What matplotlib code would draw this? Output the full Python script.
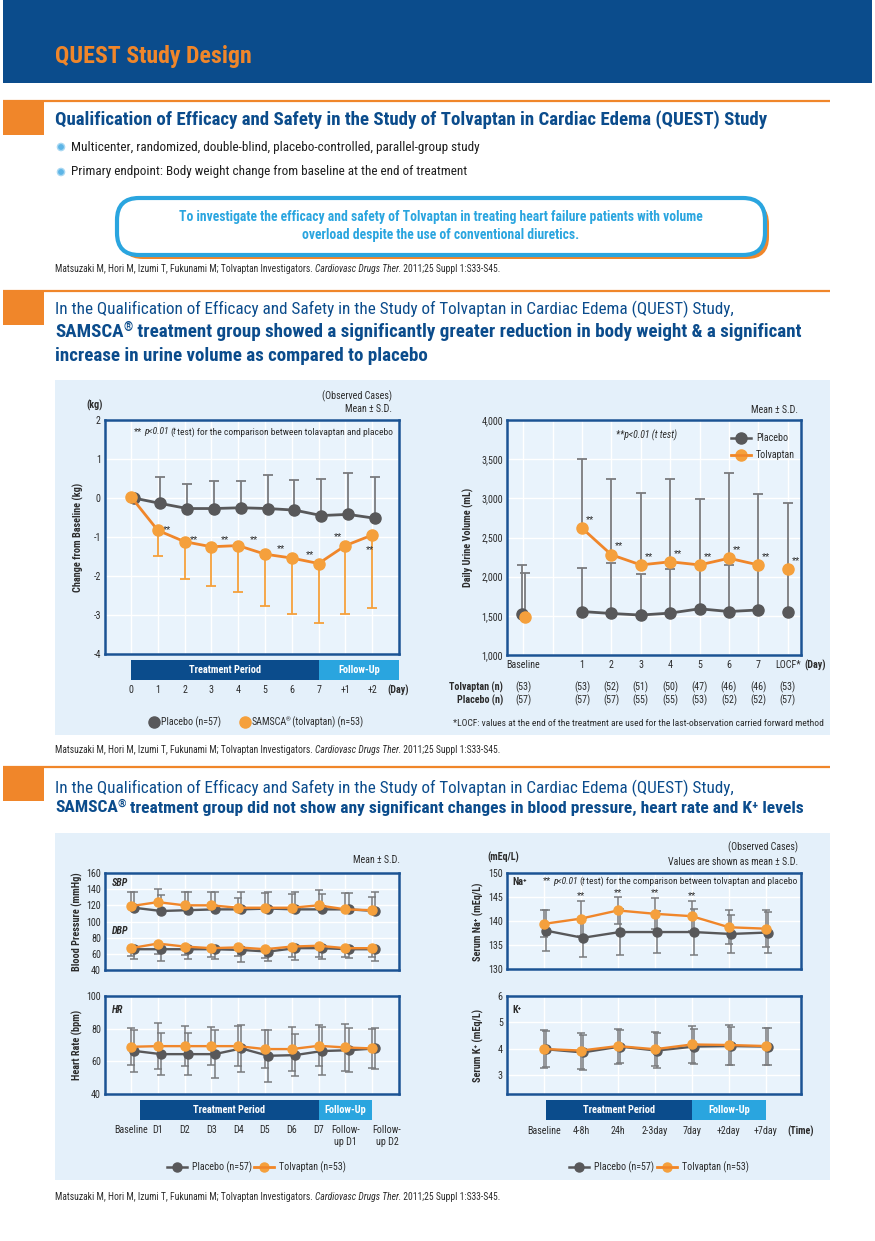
import numpy as np
import matplotlib
matplotlib.use("Agg")
import matplotlib.pyplot as plt
from matplotlib import font_manager as fm
from matplotlib.patches import Rectangle, FancyBboxPatch, Circle

W, H = 875, 1241

# pick a narrow sans if one is installed
names = {f.name for f in fm.fontManager.ttflist}
COND = next((c for c in ["Liberation Sans Narrow", "Roboto Condensed",
                         "Open Sans Condensed", "Arial Narrow"] if c in names),
            "Liberation Sans")
plt.rcParams["font.family"] = [COND, "DejaVu Sans"]

NAVY = "#0B4C8C"
ORANGE = "#F0862A"
DOT_OR = "#F5A03C"
GREY = "#58585A"
ERR = "#7A7B7E"
SKY = "#2AA5DF"
PANEL = "#E4F0FA"
FACE = "#E9F3FC"
FRAME = "#1B5394"
TXT = "#2B2B2B"

# ── Body weight change (kg) ──────────────────────────────────────────────
wt_days = ["0", "1", "2", "3", "4", "5", "6", "7", "+1", "+2"]
wt_placebo = [0.0, -0.14, -0.27, -0.27, -0.25, -0.27, -0.31, -0.45, -0.42, -0.52]
wt_placebo_sd = [0.0, 0.67, 0.63, 0.70, 0.68, 0.85, 0.78, 0.95, 1.06, 1.05]
wt_tolv = [0.03, -0.83, -1.12, -1.25, -1.22, -1.44, -1.54, -1.68, -1.22, -0.95]
wt_tolv_sd = [0.0, 0.65, 0.95, 1.01, 1.20, 1.33, 1.44, 1.53, 1.75, 1.86]
wt_star_x = [1.36, 2.34, 3.52, 4.6, 5.58, 6.66, 7.74, 8.91]
wt_star_y = [-0.82, -1.08, -1.08, -1.08, -1.29, -1.44, -0.99, -1.33]

# ── Daily urine volume (mL) ──────────────────────────────────────────────
ur_labels = ["Baseline", "1", "2", "3", "4", "5", "6", "7", "LOCF*"]
ur_placebo = [1520, 1555, 1530, 1510, 1535, 1590, 1555, 1575, 1555]
ur_placebo_sd = [630, 550, 640, 530, 560, 560, 595, 555, 550]
ur_tolv = [1490, 2620, 2280, 2150, 2190, 2150, 2235, 2150, 2095]
ur_tolv_sd = [555, 880, 965, 915, 1055, 840, 1085, 900, 840]
ur_n_tolv = ["(53)", "(53)", "(52)", "(51)", "(50)", "(47)", "(46)", "(46)", "(53)"]
ur_n_plac = ["(57)", "(57)", "(57)", "(55)", "(55)", "(53)", "(52)", "(52)", "(57)"]

# ── Blood pressure / heart rate ──────────────────────────────────────────
vs_labels = ["Baseline", "D1", "D2", "D3", "D4", "D5", "D6", "D7",
             "Follow-\nup D1", "Follow-\nup D2"]
sbp_tolv = [119, 124, 120, 120, 117, 117, 117, 120, 115, 114]
sbp_tolv_sd = [17, 16, 16, 16, 12, 18, 17, 18.5, 20, 16]
sbp_plac = [117, 113, 114, 115, 115, 116, 115, 115, 115, 113]
sbp_plac_sd = [19, 20, 23, 21, 22, 21, 21, 19, 20, 23]
dbp_tolv = [67, 72.7, 69, 67, 68, 65.7, 69, 70, 67, 67]
dbp_tolv_sd = [9.2, 13.2, 10.4, 10.5, 10.6, 11.2, 12.5, 13.5, 11.3, 11.3]
dbp_plac = [65.7, 65.7, 65.7, 65.7, 64.8, 62.8, 67, 67, 65.7, 65.7]
dbp_plac_sd = [12, 14.1, 12.5, 12.5, 14.4, 11.2, 14.6, 13.8, 11.2, 14.1]
hr_tolv = [68.9, 69.3, 69.3, 69.3, 69.3, 67.5, 67.5, 69.5, 68.5, 67.9]
hr_tolv_sd = [11.4, 13.9, 12.2, 11.8, 12.4, 11.5, 13.6, 12.6, 14.2, 12.0]
hr_plac = [66.4, 64.4, 64.4, 64.4, 67.9, 63.4, 63.8, 66.3, 66.8, 67.9]
hr_plac_sd = [12.8, 12.8, 12.7, 14.9, 14.3, 15.8, 12.9, 14.7, 13.4, 12.7]

# ── Serum electrolytes ───────────────────────────────────────────────────
el_labels = ["Baseline", "4-8h", "24h", "2-3day", "7day", "+2day", "+7day"]
na_tolv = [139.4, 140.5, 142.2, 141.5, 141.0, 138.7, 138.4]
na_tolv_sd = [2.8, 3.6, 2.8, 3.2, 3.1, 3.5, 3.8]
na_plac = [138.0, 136.5, 137.7, 137.7, 137.7, 137.3, 137.6]
na_plac_sd = [4.2, 4.1, 4.7, 4.4, 4.7, 4.0, 4.3]
na_star = [False, True, True, True, True, False, False]
k_tolv = [4.00, 3.94, 4.11, 3.99, 4.17, 4.15, 4.11]
k_tolv_sd = [0.70, 0.68, 0.66, 0.65, 0.70, 0.75, 0.70]
k_plac = [3.99, 3.87, 4.09, 3.94, 4.09, 4.11, 4.09]
k_plac_sd = [0.68, 0.66, 0.62, 0.66, 0.65, 0.72, 0.70]

REF = [("Matsuzaki M, Hori M, Izumi T, Fukunami M; Tolvaptan Investigators. ", {}),
       ("Cardiovasc Drugs Ther.", {"style": "italic"}),
       (" 2011;25 Suppl 1:S33-S45.", {})]


def p_note(rest):
    return [("**", {}), ("p<0.01", {"style": "italic", "gap": 2}), ("(", {"gap": 1.5}),
            ("t", {"style": "italic", "gap": -0.5}), (" test) " + rest, {"gap": -0.5})]


fig = plt.figure(figsize=(W / 100, H / 100), dpi=100)
fig.patch.set_facecolor("white")


def layer(z):
    a = fig.add_axes([0, 0, 1, 1], zorder=z)
    a.set_xlim(0, W)
    a.set_ylim(H, 0)
    a.axis("off")
    return a


back = layer(-5)
front = layer(10)
renderer = fig.canvas.get_renderer()


def rich(x, y, parts, size, color=TXT, **kw):
    """Draw text pieces one after another; a piece may carry its own size, lift and gap."""
    for s, extra in parts:
        extra = dict(extra)
        sz = extra.pop("size", size)
        dy = extra.pop("dy", 0)
        x += extra.pop("gap", 0)
        t = front.text(x, y + dy, s, fontsize=sz, color=color, va="center", **kw, **extra)
        x += t.get_window_extent(renderer=renderer).width


def samsca(rest, size, weight="bold", gap=0):
    return [("SAMSCA", {"weight": weight}),
            ("®", {"weight": weight, "size": size * 0.62, "dy": -size * 0.32, "gap": gap}),
            (rest, {"weight": weight})]


def section(y):
    back.plot([3, 830], [y, y], color=ORANGE, lw=1.6, solid_capstyle="butt")
    back.add_patch(Rectangle((3, y), 41, 34, color=ORANGE, lw=0))


# ── Header ───────────────────────────────────────────────────────────────
back.add_patch(Rectangle((3, 0), 869, 83, color=NAVY, lw=0))
front.text(55, 57, "QUEST Study Design", fontsize=17.2, weight="bold", color=ORANGE, va="center")

section(101)
front.text(55, 120, "Qualification of Efficacy and Safety in the Study of Tolvaptan in Cardiac Edema (QUEST) Study",
           fontsize=13.6, weight="bold", color=NAVY, va="center")
for yy, s in [(147, "Multicenter, randomized, double-blind, placebo-controlled, parallel-group study"),
              (172, "Primary endpoint: Body weight change from baseline at the end of treatment")]:
    back.add_patch(Circle((61, yy), 3.6, facecolor="#5DB5E6", edgecolor="#A9D8F2", lw=1))
    front.text(71, yy, s, fontsize=9.5, color="#1E1E1E", va="center")

back.add_patch(FancyBboxPatch((121, 202), 648, 57, boxstyle="round,pad=0,rounding_size=22",
                              facecolor=ORANGE, edgecolor="none"))
back.add_patch(FancyBboxPatch((117, 198), 648, 57, boxstyle="round,pad=0,rounding_size=22",
                              facecolor="white", edgecolor=SKY, lw=3))
front.text(441, 226, "To investigate the efficacy and safety of Tolvaptan in treating heart failure patients with volume\n"
           "overload despite the use of conventional diuretics.", fontsize=9.8, weight="bold",
           color=SKY, ha="center", va="center", linespacing=1.45)
rich(55, 269, REF, 6.9)

section(291)
front.text(55, 309, "In the Qualification of Efficacy and Safety in the Study of Tolvaptan in Cardiac Edema (QUEST) Study,",
           fontsize=12.3, color=NAVY, va="center")
rich(55, 332, samsca(" treatment group showed a significantly greater reduction in body weight & a significant", 13.7),
     13.7, color=NAVY)
front.text(55, 356, "increase in urine volume as compared to placebo", fontsize=13.7, weight="bold",
           color=NAVY, va="center")
back.add_patch(Rectangle((55, 380), 775, 355, color=PANEL, lw=0))
rich(55, 750, REF, 6.9)

section(767)
front.text(55, 788, "In the Qualification of Efficacy and Safety in the Study of Tolvaptan in Cardiac Edema (QUEST) Study,",
           fontsize=12.3, color=NAVY, va="center")
rich(55, 808, samsca(" treatment group did not show any significant changes in blood pressure, heart rate and K⁺ levels", 12.6),
     12.6, color=NAVY)
back.add_patch(Rectangle((55, 833), 775, 347, color=PANEL, lw=0))
rich(55, 1197, REF, 6.9)


def make_ax(box, xlim, ylim, yticks, ylabels, xticks):
    l, t, r, b = box
    ax = fig.add_axes([l / W, 1 - b / H, (r - l) / W, (b - t) / H])
    ax.set_xlim(*xlim)
    ax.set_ylim(*ylim)
    ax.set_facecolor(FACE)
    for s in ax.spines.values():
        s.set_color(FRAME)
        s.set_linewidth(1.8)
    ax.set_yticks(yticks)
    ax.set_yticklabels(ylabels)
    ax.set_xticks(xticks)
    ax.set_xticklabels([])
    ax.tick_params(length=0, labelsize=7.2, colors=TXT, pad=3)
    ax.grid(True, color="white", lw=1.0)
    ax.set_axisbelow(True)
    return ax


def yfrac(box, ypx):
    return (box[3] - ypx) / (box[3] - box[1])


def period_bar(ax, box, x0, x1, x2, top=6, bottom=26):
    tr = ax.get_xaxis_transform()
    y0 = yfrac(box, box[3] + bottom)
    hgt = (bottom - top) / (box[3] - box[1])
    ax.add_patch(Rectangle((x0, y0), x1 - x0, hgt, transform=tr, clip_on=False, color=NAVY, lw=0))
    ax.add_patch(Rectangle((x1, y0), x2 - x1, hgt, transform=tr, clip_on=False, color=SKY, lw=0))
    ax.text((x0 + x1) / 2, y0 + hgt / 2, "Treatment Period", transform=tr, color="white",
            weight="bold", fontsize=7.5, ha="center", va="center")
    ax.text((x1 + x2) / 2, y0 + hgt / 2, "Follow-Up", transform=tr, color="white",
            weight="bold", fontsize=7.5, ha="center", va="center")


def xlabels(ax, box, xs, labels, ypx, va="center"):
    tr = ax.get_xaxis_transform()
    for x, s in zip(xs, labels):
        ax.text(x, yfrac(box, ypx), s, transform=tr, fontsize=7.2, color=TXT,
                ha="center", va=va, clip_on=False, linespacing=1.2)


def legend_item(x, y, color, label, line=False, ms=8):
    if line:
        front.plot([x - 10, x + 10], [y, y], color=color, lw=1.8)
    front.plot([x], [y], "o", ms=ms, color=color)
    if isinstance(label, str):
        front.text(x + (15 if line else 7), y, label, fontsize=7.2, color=TXT, va="center")
    else:
        rich(x + 7, y, label, 7.2)


def ylabel(x, y, s):
    front.text(x, y, s, rotation=90, fontsize=7.4, weight="bold", color=TXT,
               ha="center", va="center")


# ── Chart 1: body weight ─────────────────────────────────────────────────
b1 = (105, 420, 399, 654)
x1 = np.arange(len(wt_days))
ax1 = make_ax(b1, (-0.97, 10.0), (-4, 2), range(-4, 3), [str(v) for v in range(-4, 3)], x1)
zeros = np.zeros(len(x1))
ax1.errorbar(x1 + 0.1, wt_placebo, yerr=[zeros, wt_placebo_sd], fmt="none", ecolor=ERR,
             elinewidth=1.3, capsize=3.5, capthick=1.3)
ax1.errorbar(x1, wt_tolv, yerr=[wt_tolv_sd, zeros], fmt="none", ecolor=DOT_OR,
             elinewidth=1.3, capsize=3.5, capthick=1.3)
ax1.plot(x1 + 0.1, wt_placebo, color=GREY, lw=2, marker="o", ms=8, zorder=3)
ax1.plot(x1, wt_tolv, color=ORANGE, lw=2, marker="o", ms=8, mfc=DOT_OR, mec=DOT_OR, zorder=4)
for sx, sy in zip(wt_star_x, wt_star_y):
    ax1.text(sx, sy, "**", fontsize=6.8, ha="center", va="center", color=TXT)
period_bar(ax1, b1, 0, 7, 10.0)
xlabels(ax1, b1, x1, wt_days, 690)
front.text(398, 690, "(Day)", fontsize=7.2, weight="bold", ha="center", va="center", color=TXT)
front.text(95, 405, "(kg)", fontsize=7.2, weight="bold", ha="center", va="center", color=TXT)
front.text(392, 396, "(Observed Cases)", fontsize=7.2, ha="right", va="center", color=TXT)
front.text(392, 409, "Mean ± S.D.", fontsize=7.2, ha="right", va="center", color=TXT)
rich(134, 432, p_note("for the comparison between tolavaptan and placebo"), 6.8)
ylabel(78, 537, "Change from Baseline (kg)")
legend_item(154, 722, GREY, "Placebo (n=57)")
legend_item(245, 722, DOT_OR, samsca(" (tolvaptan) (n=53)", 7.2, weight="normal", gap=-1.5))

# ── Chart 2: urine volume ────────────────────────────────────────────────
b2 = (507, 420, 801, 655)
x2 = np.array([-1, 1, 2, 3, 4, 5, 6, 7, 8])
yt2 = range(1000, 4001, 500)
ax2 = make_ax(b2, (-1.55, 8.45), (1000, 4000), yt2, [f"{v:,}" for v in yt2], range(-1, 9))
zeros = np.zeros(len(x2))
shift = np.where(x2 == -1, 0.05, 0.0)
ax2.errorbar(x2 - shift, ur_placebo, yerr=[zeros, ur_placebo_sd], fmt="none", ecolor=ERR,
             elinewidth=1.3, capsize=3.5, capthick=1.3)
ax2.errorbar(x2 + shift, ur_tolv, yerr=[zeros, ur_tolv_sd], fmt="none", ecolor=ERR,
             elinewidth=1.3, capsize=3.5, capthick=1.3)
days = slice(1, 8)
ax2.plot(x2[days], ur_placebo[days], color=GREY, lw=2, zorder=3)
ax2.plot(x2 - shift, ur_placebo, "o", color=GREY, ms=8, zorder=3)
ax2.plot(x2[days], ur_tolv[days], color=ORANGE, lw=2, zorder=4)
ax2.plot(x2 + shift, ur_tolv, "o", color=DOT_OR, ms=8, zorder=4)
for xx, yy in zip(x2[1:], ur_tolv[1:]):
    ax2.text(xx + 0.27, yy + 110, "**", fontsize=6.8, ha="center", va="center", color=TXT)
xlabels(ax2, b2, x2, ur_labels, 665)
front.text(815, 665, "(Day)", fontsize=7.2, weight="bold", ha="center", va="center", color=TXT)
xlabels(ax2, b2, x2, ur_n_tolv, 687)
xlabels(ax2, b2, x2, ur_n_plac, 700)
front.text(503, 687, "Tolvaptan (n)", fontsize=7.2, weight="bold", ha="right", va="center", color=TXT)
front.text(503, 700, "Placebo (n)", fontsize=7.2, weight="bold", ha="right", va="center", color=TXT)
front.text(453, 723, "*LOCF: values at the end of the treatment are used for the last-observation carried forward method",
           fontsize=6.8, va="center", color=TXT)
front.text(798, 410, "Mean ± S.D.", fontsize=7.2, ha="right", va="center", color=TXT)
front.text(647, 435, "**p<0.01 (t test)", fontsize=7, style="italic", ha="center", va="center", color=TXT)
legend_item(741, 438, GREY, "Placebo", line=True)
legend_item(741, 455, DOT_OR, "Tolvaptan", line=True)
front.plot([731, 751], [455, 455], color=ORANGE, lw=1.8)
ylabel(468, 537, "Daily Urine Volume (mL)")


# ── Lower panel helpers ──────────────────────────────────────────────────
def vs_series(ax, xs, tolv, tolv_sd, plac, plac_sd, up=True, down=True, off=0.12):
    n = len(xs)
    zeros = np.zeros(n)
    lo_t = tolv_sd if down else zeros
    hi_t = tolv_sd if up else zeros
    lo_p = plac_sd if down else zeros
    hi_p = plac_sd if up else zeros
    ax.errorbar(xs + off, plac, yerr=[lo_p, hi_p], fmt="none", ecolor=ERR,
                elinewidth=1.1, capsize=2.8, capthick=1.1)
    ax.errorbar(xs, tolv, yerr=[lo_t, hi_t], fmt="none", ecolor=ERR,
                elinewidth=1.1, capsize=2.8, capthick=1.1)
    ax.plot(xs + off, plac, color=GREY, lw=1.7, marker="o", ms=6.5, zorder=3)
    ax.plot(xs, tolv, color=ORANGE, lw=1.7, marker="o", ms=6.5, mfc=DOT_OR, mec=DOT_OR, zorder=4)


xv = np.arange(len(vs_labels))
b3 = (105, 873, 399, 970)
ax3 = make_ax(b3, (-0.97, 10.0), (40, 160), range(40, 161, 20), [str(v) for v in range(40, 161, 20)], xv)
vs_series(ax3, xv, sbp_tolv, sbp_tolv_sd, sbp_plac, sbp_plac_sd, down=False)
vs_series(ax3, xv, dbp_tolv, dbp_tolv_sd, dbp_plac, dbp_plac_sd, up=False)
front.text(112, 883, "SBP", fontsize=7.2, weight="bold", style="italic", va="center", color=TXT)
front.text(112, 931, "DBP", fontsize=7.2, weight="bold", style="italic", va="center", color=TXT)
front.text(400, 860, "Mean ± S.D.", fontsize=7.2, ha="right", va="center", color=TXT)
ylabel(77, 922, "Blood Pressure (mmHg)")

b4 = (105, 996, 399, 1094)
ax4 = make_ax(b4, (-0.97, 10.0), (40, 100), range(40, 101, 20), [str(v) for v in range(40, 101, 20)], xv)
vs_series(ax4, xv, hr_tolv, hr_tolv_sd, hr_plac, hr_plac_sd)
front.text(112, 1010, "HR", fontsize=7.2, weight="bold", style="italic", va="center", color=TXT)
ylabel(77, 1045, "Heart Rate (bpm)")
period_bar(ax4, b4, 0.34, 7, 9.0)
xlabels(ax4, b4, list(xv[:-1]) + [9.55], vs_labels, 1125, va="top")
legend_item(177, 1167, GREY, "Placebo (n=57)", line=True, ms=6.5)
legend_item(264, 1167, DOT_OR, "Tolvaptan (n=53)", line=True, ms=6.5)
front.plot([254, 274], [1167, 1167], color=ORANGE, lw=1.8)

xe = np.arange(len(el_labels))
b5 = (507, 873, 801, 969)
ax5 = make_ax(b5, (-1, 6.95), (130, 150), range(130, 151, 5), [str(v) for v in range(130, 151, 5)], xe)
vs_series(ax5, xe, na_tolv, na_tolv_sd, na_plac, na_plac_sd, off=0.05)
for xx, yy, sd, st in zip(xe, na_tolv, na_tolv_sd, na_star):
    if st:
        ax5.text(xx, min(yy + sd + 1.2, 145.9), "**", fontsize=6.8, ha="center", va="center", color=TXT)
front.text(512, 882, "Na⁺", fontsize=7.2, weight="bold", va="center", color=TXT)
rich(543, 881, p_note("for the comparison between tolvaptan and placebo"), 6.8)
front.text(503, 857, "(mEq/L)", fontsize=7.2, weight="bold", ha="center", va="center", color=TXT)
front.text(798, 847, "(Observed Cases)", fontsize=7.2, ha="right", va="center", color=TXT)
front.text(798, 862, "Values are shown as mean ± S.D.", fontsize=7.2, ha="right", va="center", color=TXT)
ylabel(478, 922, "Serum Na⁺ (mEq/L)")

b6 = (507, 996, 801, 1094)
ax6 = make_ax(b6, (-1, 6.95), (2.3, 6), [3, 4, 5, 6], ["3", "4", "5", "6"], xe)
vs_series(ax6, xe, k_tolv, k_tolv_sd, k_plac, k_plac_sd, off=0.05)
front.text(512, 1010, "K⁺", fontsize=7.2, weight="bold", va="center", color=TXT)
ylabel(478, 1045, "Serum K⁺ (mEq/L)")
period_bar(ax6, b6, 0.05, 4, 6.0)
xlabels(ax6, b6, xe, el_labels, 1131)
front.text(801, 1131, "(Time)", fontsize=7.2, weight="bold", ha="center", va="center", color=TXT)
legend_item(579, 1167, GREY, "Placebo (n=57)", line=True, ms=6.5)
legend_item(667, 1167, DOT_OR, "Tolvaptan (n=53)", line=True, ms=6.5)
front.plot([657, 677], [1167, 1167], color=ORANGE, lw=1.8)

fig.savefig("out.png", dpi=100)
